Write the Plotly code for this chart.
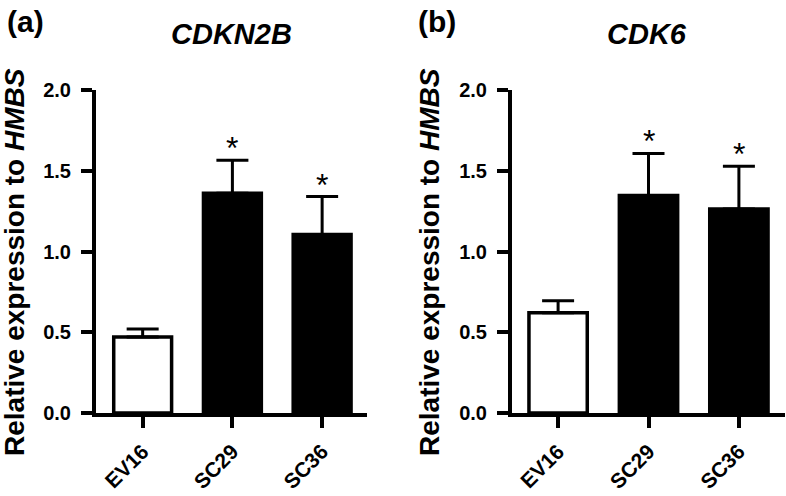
import plotly.graph_objects as go

categories = ["EV16", "SC29", "SC36"]
cdkn2b_mean = [0.47, 1.36, 1.105]
cdkn2b_err = [0.05, 0.205, 0.235]
cdk6_mean = [0.62, 1.347, 1.263]
cdk6_err = [0.075, 0.26, 0.265]
significant = [False, True, True]
bar_colors = ["white", "black", "black"]
y_ticks = [0.0, 0.5, 1.0, 1.5, 2.0]
y_tick_text = ["0.0", "0.5", "1.0", "1.5", "2.0"]

FONT = "Liberation Sans, Arial, sans-serif"
W, H = 786, 496

fig = go.Figure()

def add_panel(means, errs, xa, ya):
    fig.add_trace(go.Bar(
        x=categories, y=means, xaxis=xa, yaxis=ya,
        marker=dict(color=bar_colors, line=dict(color="black", width=3.5)),
        width=0.645,
        error_y=dict(type="data", array=errs, arrayminus=[0] * len(errs),
                     symmetric=False, thickness=3, width=16, color="black"),
        showlegend=False,
    ))
    for c, m, e, s in zip(categories, means, errs, significant):
        if s:
            fig.add_annotation(x=c, y=m + e, xref=xa, yref=ya, text="*",
                               showarrow=False, yanchor="middle", yshift=12,
                               font=dict(family=FONT, size=32, color="black"))

add_panel(cdkn2b_mean, cdkn2b_err, "x", "y")
add_panel(cdk6_mean, cdk6_err, "x2", "y2")

ydom = [83 / H, 406 / H]
axis_common = dict(showline=True, linewidth=4, linecolor="black", ticks="outside",
                   ticklen=11, tickwidth=4, tickcolor="black", showgrid=False,
                   zeroline=False, mirror=False, automargin=False)
xcommon = dict(axis_common, type="category", tickangle=-45, ticklabelstandoff=3,
               tickfont=dict(family=FONT, size=21, color="black"),
               tickvals=categories, ticktext=["<b>%s</b>" % c for c in categories])
ycommon = dict(axis_common, range=[0, 2.0], tickvals=y_ticks, ticklabelstandoff=6,
               ticktext=["<b>%s</b>" % t for t in y_tick_text],
               tickfont=dict(family=FONT, size=20, color="black"))

fig.update_layout(
    width=W, height=H, margin=dict(l=0, r=0, t=0, b=0, autoexpand=False),
    paper_bgcolor="white", plot_bgcolor="white",
    xaxis=dict(xcommon, domain=[96 / W, 367 / W], range=[-0.52, 2.5], anchor="y"),
    yaxis=dict(ycommon, domain=ydom, anchor="x"),
    xaxis2=dict(xcommon, domain=[512 / W, 785 / W], range=[-0.51, 2.51], anchor="y2"),
    yaxis2=dict(ycommon, domain=ydom, anchor="x2"),
)

def txt(x, y, s, size, angle=0):
    fig.add_annotation(x=x / W, y=1 - y / H, xref="paper", yref="paper", text=s,
                       showarrow=False, textangle=angle, xanchor="center", yanchor="middle",
                       font=dict(family=FONT, size=size, color="black"))

txt(25, 22, "<b>(a)</b>", 30)
txt(437, 22, "<b>(b)</b>", 30)
txt(232, 34, "<b><i>CDKN2B</i></b>", 29)
txt(647, 34, "<b><i>CDK6</i></b>", 29)
txt(14, 262, "<b>Relative expression to <i>HMBS</i></b>", 28, -90)
txt(429, 262, "<b>Relative expression to <i>HMBS</i></b>", 28, -90)

fig.write_html("out.html", config={"displayModeBar": False},
               post_script="document.body.style.margin='0';document.body.style.overflow='hidden';")
